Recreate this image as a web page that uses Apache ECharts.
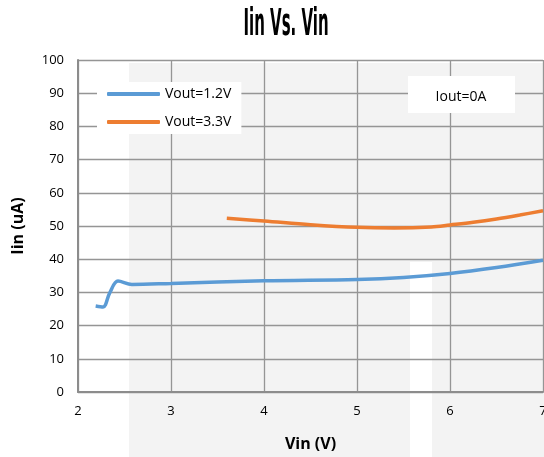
<!DOCTYPE html>
<html><head><meta charset="utf-8">
<script src="https://cdn.jsdelivr.net/npm/echarts@6/dist/echarts.min.js"></script>
<style>html,body{margin:0;padding:0;background:#fff}#c{width:544px;height:457px}</style>
</head><body><div id="c"></div>
<script>
const titleText = 'Iin Vs. Vin';
const seriesNames = ['Vout=1.2V', 'Vout=3.3V'];
const vinA = [2.19, 2.27, 2.34, 2.43, 2.58, 3.0, 4.0, 5.0, 5.5, 6.0, 6.5, 7.0];
const iinA = [25.9, 25.6, 29.8, 33.4, 32.4, 32.7, 33.5, 33.9, 34.5, 35.7, 37.5, 39.7];
const vinB = [3.6, 4.0, 4.5, 5.0, 5.4, 5.8, 6.0, 6.25, 6.5, 6.75, 7.0];
const iinB = [52.3, 51.5, 50.4, 49.6, 49.4, 49.7, 50.3, 51.1, 52.1, 53.3, 54.6];
const noteText = 'Iout=0A';

const chart = echarts.init(document.getElementById('c'));
chart.setOption({
  animation: false,
  backgroundColor: '#fff',
  textStyle: { fontFamily: 'Open Sans' },
  grid: { left: 78, right: 1, top: 60, bottom: 65, outerBoundsMode: 'none', containLabel: false },
  xAxis: {
    type: 'value', min: 2, max: 7, interval: 1,
    name: 'Vin (V)', nameLocation: 'middle', nameGap: 44,
    nameTextStyle: { fontSize: 16, fontWeight: 'bold', color: '#000', fontFamily: 'Open Sans' },
    axisLine: { lineStyle: { color: '#8c8c8c', width: 2 } },
    axisTick: { show: false },
    axisLabel: { fontSize: 13, color: '#000', margin: 13, hideOverlap: false },
    splitLine: { lineStyle: { color: '#959595', width: 1.3 } }
  },
  yAxis: {
    type: 'value', min: 0, max: 100, interval: 10,
    name: 'Iin (uA)', nameLocation: 'middle', nameGap: 52,
    nameTextStyle: { fontSize: 16, fontWeight: 'bold', color: '#000', fontFamily: 'Open Sans' },
    axisLine: { show: true, lineStyle: { color: '#8c8c8c', width: 2 } },
    axisTick: { show: false },
    axisLabel: { fontSize: 13, color: '#000', margin: 14 },
    splitLine: { lineStyle: { color: '#959595', width: 1.3 } }
  },
  legend: {
    orient: 'vertical', left: 97, top: 82,
    backgroundColor: '#fff', padding: [5, 10, 5, 10],
    itemWidth: 53, itemHeight: 4, itemGap: 14,
    icon: 'roundRect',
    textStyle: { fontSize: 14, color: '#000' },
    data: seriesNames
  },
  graphic: [
    { type: 'rect', z: -10, silent: true, shape: { x: 129, y: 63, width: 415, height: 394 }, style: { fill: '#f3f3f3' } },
    { type: 'rect', z: -9, silent: true, shape: { x: 410, y: 262, width: 22, height: 195 }, style: { fill: '#ffffff' } },
    { type: 'rect', z: 10, silent: true, shape: { x: 408, y: 76, width: 107, height: 37 }, style: { fill: '#fff' } },
    { type: 'text', z: 11, silent: true, style: { text: noteText, x: 461, y: 97, align: 'center', verticalAlign: 'middle', fontSize: 14, fill: '#000', fontFamily: 'Open Sans' } },
    { type: 'text', z: 11, silent: true, x: 286, y: 25, scaleX: 0.45,
      style: { text: titleText, x: 0, y: 0, align: 'center', verticalAlign: 'middle', fontSize: 37, fontWeight: 'bold', fill: '#000', fontFamily: 'DejaVu Sans Condensed' } }
  ],
  series: [
    { name: seriesNames[0], type: 'line', smooth: 0.35, showSymbol: false, symbol: 'none',
      lineStyle: { color: '#5b9bd5', width: 3.5 }, itemStyle: { color: '#5b9bd5' },
      data: vinA.map((v, i) => [v, iinA[i]]) },
    { name: seriesNames[1], type: 'line', smooth: 0.35, showSymbol: false, symbol: 'none',
      lineStyle: { color: '#ed7d31', width: 3.5 }, itemStyle: { color: '#ed7d31' },
      data: vinB.map((v, i) => [v, iinB[i]]) }
  ]
});
</script></body></html>
